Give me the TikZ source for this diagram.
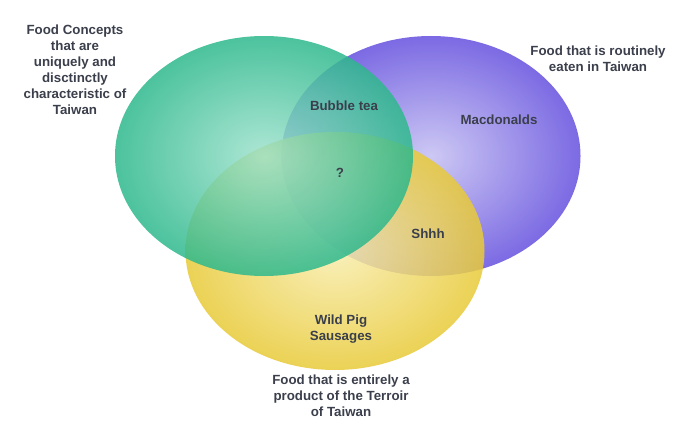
\documentclass[tikz,border=0pt]{standalone}
\usepackage{fontspec}
\setmainfont{Liberation Sans}
\usepackage{xcolor}
\usetikzlibrary{positioning}

\definecolor{txt}{HTML}{3B3F4C}
\definecolor{grnIn}{HTML}{9FE2CD}
\definecolor{grnOut}{HTML}{2DB88C}
\definecolor{purIn}{HTML}{C4BFF2}
\definecolor{purOut}{HTML}{6450DE}
\definecolor{yelIn}{HTML}{F8EDAE}
\definecolor{yelOut}{HTML}{E8CA38}

\begin{document}
\begin{tikzpicture}[x=1pt,y=-1pt,
  set/.style={draw=none,fill opacity=0.85},
  lab/.style={font=\fontsize{13.3}{16}\selectfont\bfseries,text=txt,align=center,inner sep=0pt}]
 \useasboundingbox (0,0) rectangle (690,444);
 % sets
 \shade[set,inner color=purIn,outer color=purOut] (431,156) ellipse [x radius=149.5,y radius=120];
 \shade[set,inner color=yelIn,outer color=yelOut] (335,251) ellipse [x radius=149.5,y radius=119];
 \shade[set,inner color=grnIn,outer color=grnOut] (264,156) ellipse [x radius=149,y radius=120];
 % set titles
 \node[lab] (tGreen) at (75,70) {Food Concepts\\that are\\uniquely and\\disctinctly\\characteristic of\\Taiwan};
 \node[lab] (tPurple) at (598,59) {Food that is routinely\\eaten in Taiwan};
 \node[lab] (tYellow) at (341,396) {Food that is entirely a\\product of the Terroir\\of Taiwan};
 % items
 \node[lab] (bubble) at (344,106) {Bubble tea};
 \node[lab] (mac) at (499,120) {Macdonalds};
 \node[lab] (mid) at (340,173) {?};
 \node[lab] (shhh) at (428,234) {Shhh};
 \node[lab] (pig) at (341,329) {Wild Pig\\Sausages};
\end{tikzpicture}
\end{document}
